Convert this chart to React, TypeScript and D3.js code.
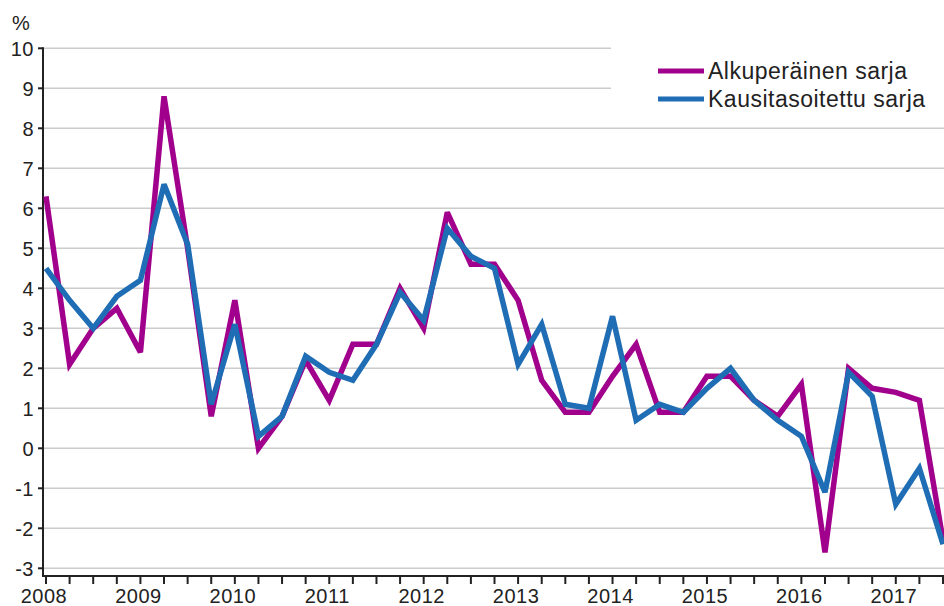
import React from "react"
import * as d3 from "d3"

// quarterly periods 2008Q1 - 2017Q3
const years = [2008, 2009, 2010, 2011, 2012, 2013, 2014, 2015, 2016, 2017]
const periods = [
	"2008Q1", "2008Q2", "2008Q3", "2008Q4",
	"2009Q1", "2009Q2", "2009Q3", "2009Q4",
	"2010Q1", "2010Q2", "2010Q3", "2010Q4",
	"2011Q1", "2011Q2", "2011Q3", "2011Q4",
	"2012Q1", "2012Q2", "2012Q3", "2012Q4",
	"2013Q1", "2013Q2", "2013Q3", "2013Q4",
	"2014Q1", "2014Q2", "2014Q3", "2014Q4",
	"2015Q1", "2015Q2", "2015Q3", "2015Q4",
	"2016Q1", "2016Q2", "2016Q3", "2016Q4",
	"2017Q1", "2017Q2", "2017Q3",
]
const original = [
	6.3, 2.1, 3.0, 3.5, 2.4, 8.8, 5.0, 0.8, 3.7, 0.0, 0.8, 2.2, 1.2, 2.6, 2.6, 4.0,
	3.0, 5.9, 4.6, 4.6, 3.7, 1.7, 0.9, 0.9, 1.8, 2.6, 0.9, 0.9, 1.8, 1.8, 1.2, 0.8,
	1.6, -2.6, 2.0, 1.5, 1.4, 1.2, -2.3,
]
const seasonal = [
	4.5, 3.7, 3.0, 3.8, 4.2, 6.6, 5.1, 1.1, 3.1, 0.3, 0.8, 2.3, 1.9, 1.7, 2.6, 3.9,
	3.2, 5.5, 4.8, 4.5, 2.1, 3.1, 1.1, 1.0, 3.3, 0.7, 1.1, 0.9, 1.5, 2.0, 1.2, 0.7,
	0.3, -1.1, 1.9, 1.3, -1.4, -0.5, -2.4,
]
const yTicks = [-3, -2, -1, 0, 1, 2, 3, 4, 5, 6, 7, 8, 9, 10]
const seriesNames = ["Alkuperäinen sarja", "Kausitasoitettu sarja"]
const colors = ["#a0008c", "#1f6db4"]

const W = 944
const H = 606
const FONT = "'Liberation Sans', Arial, sans-serif"

const periodValue = (p: string) => +p.slice(0, 4) + (+p.slice(5) - 1) / 4

const App = () => {
	const x = d3.scaleLinear().domain([2008, 2017.5]).range([46, 943])
	const y = d3.scaleLinear().domain([-3, 10]).range([568.3, 48.3])
	const axisX = 43
	const axisY = 576

	const line = d3
		.line<number>()
		.x((_, i) => x(periodValue(periods[i])))
		.y(d => y(d))

	return (
		<svg
			width={W}
			height={H}
			style={{ position: "fixed", left: 0, top: 0, background: "#fff" }}
			fontFamily={FONT}
		>
			<rect width={W} height={H} fill="#fff" />

			{/* gridlines */}
			{yTicks.map(t => (
				<line key={t} x1={axisX} x2={W} y1={y(t)} y2={y(t)} stroke="#cccccc" strokeWidth={1.6} />
			))}

			{/* legend box hides the top gridlines */}
			<rect x={611} y={44} width={W - 611} height={72} fill="#fff" />

			{/* y axis */}
			<line x1={axisX} x2={axisX} y1={y(10) - 1} y2={axisY + 1} stroke="#222" strokeWidth={2} />
			{yTicks.map(t => (
				<g key={t}>
					<line x1={axisX - 5} x2={axisX} y1={y(t)} y2={y(t)} stroke="#222" strokeWidth={2} />
					<text x={34} y={y(t)} dy="0.36em" textAnchor="end" fontSize={20} letterSpacing={0.5} fill="#222">
						{t}
					</text>
				</g>
			))}
			<text x={12} y={30} fontSize={20} fill="#222">%</text>

			{/* x axis */}
			<line x1={axisX} x2={W} y1={axisY} y2={axisY} stroke="#222" strokeWidth={2} />
			{periods.map(p => (
				<line
					key={p}
					x1={x(periodValue(p))}
					x2={x(periodValue(p))}
					y1={axisY}
					y2={axisY + 8}
					stroke="#222"
					strokeWidth={2}
				/>
			))}
			{years.map(yr => (
				<text key={yr} x={x(yr) - 2} y={603} textAnchor="middle" fontSize={20} letterSpacing={0.5} fill="#222">
					{yr}
				</text>
			))}

			{/* series */}
			{[original, seasonal].map((s, i) => (
				<path
					key={i}
					d={line(s) ?? ""}
					fill="none"
					stroke={colors[i]}
					strokeWidth={5.5}
					strokeLinejoin="miter"
					strokeMiterlimit={3}
				/>
			))}

			{/* legend */}
			{seriesNames.map((name, i) => (
				<g key={name} transform={`translate(658, ${71 + i * 28})`}>
					<line x1={0} x2={46} y1={0} y2={0} stroke={colors[i]} strokeWidth={5} />
					<text x={50} y={0} dy="0.36em" fontSize={23} letterSpacing={0.5} fill="#222">
						{name}
					</text>
				</g>
			))}
		</svg>
	)
}

export default App
